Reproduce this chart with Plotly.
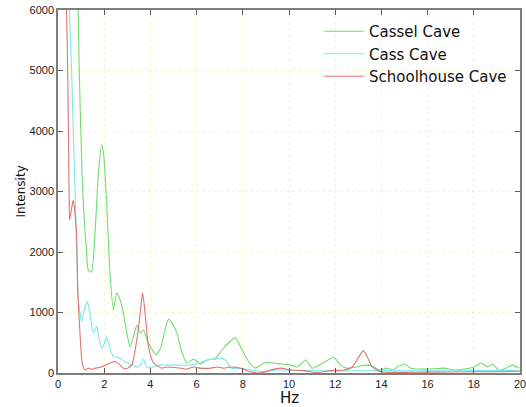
import plotly.graph_objects as go

# Cassel Cave (green)
cassel_hz = [0.80, 0.87, 0.92, 1.05, 1.24, 1.31, 1.45, 1.60, 1.75, 1.89, 1.98, 2.10, 2.25,
             2.40, 2.54, 2.69, 2.83, 2.98, 3.12, 3.27, 3.41, 3.56, 3.70, 3.88, 4.05, 4.25,
             4.45, 4.62, 4.79, 4.97, 5.15, 5.36, 5.58, 5.87, 6.16, 6.45, 6.80, 7.10, 7.39,
             7.68, 7.97, 8.25, 8.55, 8.91, 9.20, 9.63, 10.07, 10.36, 10.72, 11.00, 11.30,
             11.58, 11.94, 12.23, 12.50, 12.80, 13.10, 13.30, 13.60, 13.90, 14.20, 14.50,
             14.69, 14.98, 15.27, 15.70, 16.10, 16.70, 17.15, 17.58, 18.02, 18.31, 18.60,
             18.80, 19.10, 19.38, 19.67, 19.96]
cassel_val = [7500, 6000, 5000, 3200, 1980, 1700, 1670, 2300, 3300, 3770, 3600, 2860, 1650,
              1040, 1320, 1210, 990, 660, 430, 600, 790, 660, 710, 520, 400, 300,
              420, 700, 890, 800, 660, 350, 165, 230, 150, 215, 240, 380, 500,
              580, 380, 190, 80, 165, 170, 150, 130, 100, 215, 80, 130,
              190, 260, 130, 80, 90, 115, 130, 115, 50, 80, 50,
              100, 150, 80, 65, 65, 80, 50, 65, 100, 165, 100,
              150, 40, 80, 130, 80]

# Cass Cave (cyan)
cass_hz = [0.45, 0.49, 0.59, 0.66, 0.74, 0.81, 0.85, 0.88, 0.95, 1.02, 1.16, 1.27, 1.38,
           1.53, 1.67, 1.77, 1.89, 2.00, 2.10, 2.25, 2.40, 2.60, 2.90, 3.19, 3.48, 3.60,
           3.70, 3.85, 4.14, 4.42, 4.86, 5.29, 5.73, 6.16, 6.45, 6.81, 7.03, 7.24, 7.52,
           7.89, 8.33, 8.91, 9.50, 10.5, 12.0, 14.0, 16.0, 18.0, 20.0]
cass_val = [7000, 6000, 5000, 4000, 3000, 1980, 1540, 1210, 1000, 850, 1070, 1180, 990,
            660, 770, 600, 410, 480, 600, 410, 270, 260, 190, 130, 100, 150,
            230, 100, 100, 130, 130, 130, 130, 165, 215, 230, 250, 215, 80,
            80, 50, 20, 50, 40, 35, 40, 35, 40, 45]

# Schoolhouse Cave (red)
school_hz = [0.33, 0.37, 0.42, 0.48, 0.50, 0.58, 0.66, 0.72, 0.80, 0.85, 0.95, 1.05, 1.17,
             1.30, 1.45, 1.60, 1.80, 2.04, 2.25, 2.47, 2.69, 2.90, 3.19, 3.41, 3.56, 3.66,
             3.77, 3.92, 4.14, 4.50, 4.71, 5.29, 5.58, 5.87, 6.16, 6.59, 6.88, 7.17, 7.52,
             7.89, 8.33, 8.76, 9.20, 9.63, 10.07, 10.64, 11.22, 11.80, 12.38, 12.74, 13.03,
             13.22, 13.39, 13.60, 13.97, 14.50, 16.0, 18.0, 18.9, 20.0]
school_val = [7000, 6000, 5000, 3000, 2530, 2700, 2860, 2700, 2310, 1430, 660, 165, 50,
              80, 60, 80, 90, 130, 160, 190, 130, 65, 130, 545, 990, 1330,
              990, 430, 165, 80, 100, 80, 65, 100, 80, 80, 100, 80, 100,
              80, 20, 0, 50, 80, 50, 40, 5, 40, 50, 100, 270,
              370, 270, 100, 20, 10, 15, 20, 20, 30]

x_ticks = list(range(0, 21, 2))
y_ticks = list(range(0, 6001, 1000))

series = [
    ("Cassel Cave", cassel_hz, cassel_val, "rgb(110,222,110)"),
    ("Cass Cave", cass_hz, cass_val, "rgb(120,232,240)"),
    ("Schoolhouse Cave", school_hz, school_val, "rgb(225,115,110)"),
]

fig = go.Figure()
for name, hz, val, color in series:
    fig.add_trace(go.Scatter(x=hz, y=val, name=name, mode="lines",
                             line=dict(color=color, width=1.1, shape="spline",
                                       smoothing=0.6)))

axis_common = dict(
    showgrid=True, gridcolor="rgb(244,245,212)", griddash="dot", gridwidth=1,
    showline=True, linecolor="rgb(125,125,125)", linewidth=1.5, mirror="ticks",
    ticks="inside", ticklen=5, tickcolor="rgb(90,90,90)",
    zeroline=False, automargin=False, ticklabeloverflow="allow",
    tickfont=dict(family="Liberation Sans, Arial", size=11, color="#222"),
)

fig.update_layout(
    width=526, height=407,
    margin=dict(l=58, r=6, t=10, b=34),
    plot_bgcolor="white", paper_bgcolor="white",
    showlegend=True,
    legend=dict(x=(319 - 58) / 462, y=1 - 5 / 363, xanchor="left", yanchor="top",
                bgcolor="rgba(0,0,0,0)", borderwidth=0,
                font=dict(family="DejaVu Sans", size=15, color="#111"),
                tracegroupgap=0, itemwidth=40),
    xaxis=dict(range=[0, 20], tickvals=x_ticks, **axis_common),
    yaxis=dict(range=[0, 6000], tickvals=y_ticks, **axis_common),
    annotations=[
        dict(text="Hz", xref="paper", yref="paper", x=0.5, y=0,
             xanchor="center", yanchor="middle", yshift=-25, showarrow=False,
             font=dict(family="DejaVu Sans", size=15, color="#111")),
        dict(text="Intensity", xref="paper", yref="paper", x=0, y=0.5,
             xanchor="center", yanchor="middle", xshift=-38, textangle=-90,
             showarrow=False,
             font=dict(family="DejaVu Sans", size=12, color="#111")),
    ],
)

# page has a default 8px body margin; drop it so the figure fills the window
fig.write_html("out.html", config={"displayModeBar": False},
               post_script="document.body.style.margin='0';")
